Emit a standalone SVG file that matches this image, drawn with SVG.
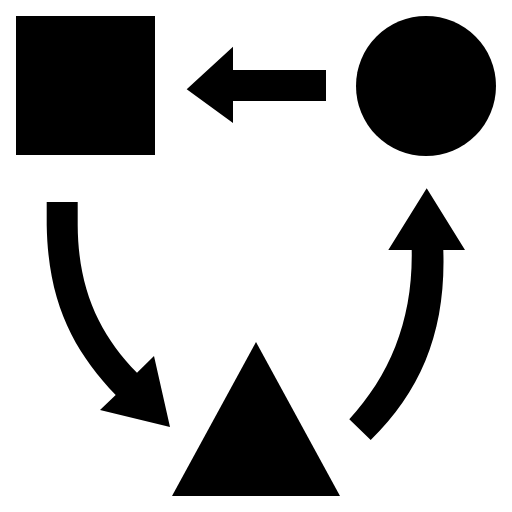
<svg xmlns="http://www.w3.org/2000/svg" width="512" height="512" viewBox="0 0 512 512">
<style>.s{fill:#000;stroke:none}</style>
<rect width="512" height="512" fill="#fff"/>
<g id="square"><rect class="s" x="16" y="16" width="139" height="139"/></g>
<g id="circle"><circle class="s" cx="426" cy="86" r="70"/></g>
<g id="triangle"><polygon class="s" points="256,342 340,496 172,496"/></g>
<g id="connectors">
<path class="s" d="M326,70 L233,70 L233,46.7 L186.7,89.3 L233,123 L233,101 L326,101 Z"/>
<path class="s" d="M46.7,202 L77.7,202 L77.7,225 C78,290 100,335 137,372.7 L154,356 L170,427 L100,410 L115.7,395 C75,352 48,305 46.7,225 Z"/>
<path class="s" d="M370.7,440 L349.3,419.3 C390,375 413,320 411.7,250 L388.3,250 L426.7,188.3 L465,250 L443.3,250 C446,330 422,390 370.7,440 Z"/>
</g>
</svg>
